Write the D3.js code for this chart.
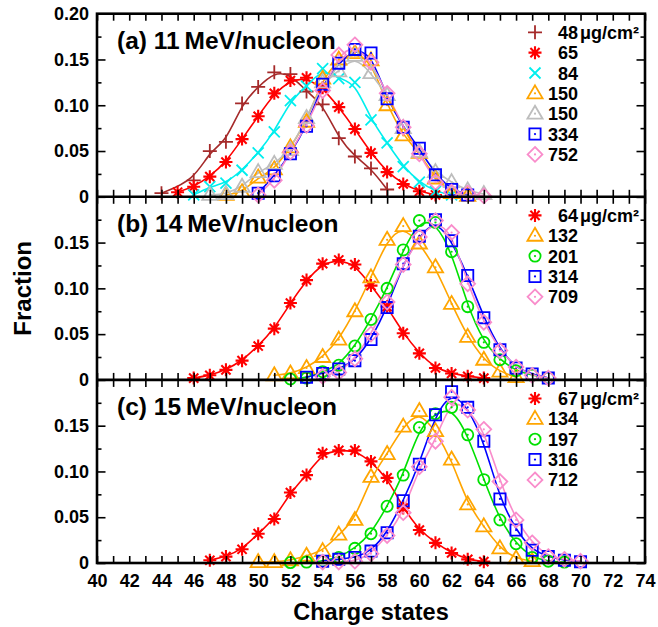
<!DOCTYPE html>
<html>
<head>
<meta charset="utf-8">
<script src="https://cdn.jsdelivr.net/npm/d3@7"></script>
<style>
  body { margin: 0; background: #fff; }
  svg { display: block; }
  text { font-family: "Liberation Sans", Arial, Helvetica, sans-serif; font-weight: bold; fill: #000; }
</style>
</head>
<body>
<svg id="chart" width="658" height="627"></svg>
<script>
// ---------------- data ----------------
const chargeTicks = d3.range(40, 75, 1);          // every integer charge state gets a tick
const fractionMajor = [0, 0.05, 0.10, 0.15, 0.20];
const fractionMinor = [0.025, 0.075, 0.125, 0.175];
const panelTitles = ["(a) 11\u2009MeV/nucleon", "(b) 14\u2009MeV/nucleon", "(c) 15\u2009MeV/nucleon"];

// (a) 11 MeV/nucleon — foil thickness in µg/cm²: [charge state, fraction]
const a48  = [[44,0.004],[46,0.018],[47,0.050],[48,0.060],[49,0.102],[50,0.120],[51,0.136],[52,0.134],[53,0.115],[54,0.101],[55,0.064],[56,0.044],[57,0.031],[58,0.008]];
const a65  = [[45,0.005],[46,0.011],[47,0.022],[48,0.038],[49,0.063],[50,0.088],[51,0.113],[52,0.127],[53,0.130],[54,0.119],[55,0.098],[56,0.074],[57,0.048],[58,0.027],[59,0.014],[60,0.006],[61,0.002]];
const a84  = [[46,0.002],[47,0.011],[48,0.015],[49,0.029],[50,0.048],[51,0.071],[52,0.105],[53,0.121],[54,0.140],[55,0.129],[56,0.125],[57,0.084],[58,0.059],[59,0.033],[60,0.016],[61,0.006],[62,0.002]];
const a150 = [[48,0.002],[49,0.005],[50,0.021],[51,0.030],[52,0.054],[53,0.082],[54,0.129],[55,0.150],[56,0.157],[57,0.149],[58,0.100],[59,0.067],[60,0.048],[61,0.020],[62,0.004],[63,0.001]];
const a150b = [[47,0.002],[48,0.003],[49,0.011],[50,0.027],[51,0.036],[52,0.051],[53,0.086],[54,0.125],[55,0.137],[56,0.154],[57,0.135],[58,0.111],[59,0.075],[60,0.049],[61,0.027],[62,0.016],[63,0.007],[64,0.003]];
const a334 = [[50,0.004],[51,0.023],[52,0.047],[53,0.077],[54,0.123],[55,0.146],[56,0.161],[57,0.157],[58,0.107],[59,0.076],[60,0.053],[61,0.024],[62,0.008],[63,0.002]];
const a752 = [[50,0.002],[51,0.018],[52,0.049],[53,0.078],[54,0.116],[55,0.155],[56,0.166],[57,0.147],[58,0.113],[59,0.076],[60,0.047],[61,0.016],[62,0.005],[63,0.004],[64,0.001]];

// (b) 14 MeV/nucleon
const b64  = [[46,0.002],[47,0.005],[48,0.011],[49,0.021],[50,0.037],[51,0.056],[52,0.084],[53,0.109],[54,0.127],[55,0.131],[56,0.126],[57,0.103],[58,0.080],[59,0.051],[60,0.029],[61,0.013],[62,0.007],[63,0.004],[64,0.002]];
const b132 = [[51,0.005],[52,0.007],[53,0.013],[54,0.025],[55,0.044],[56,0.075],[57,0.112],[58,0.153],[59,0.168],[60,0.149],[61,0.123],[62,0.083],[63,0.047],[64,0.022],[65,0.009],[66,0.003]];
const b201 = [[52,0.001],[53,0.002],[54,0.009],[55,0.016],[56,0.037],[57,0.066],[58,0.100],[59,0.142],[60,0.174],[61,0.172],[62,0.140],[63,0.080],[64,0.041],[65,0.022],[66,0.010],[67,0.005],[68,0.002]];
const b314 = [[53,0.003],[54,0.007],[55,0.012],[56,0.021],[57,0.044],[58,0.079],[59,0.127],[60,0.157],[61,0.175],[62,0.152],[63,0.114],[64,0.068],[65,0.033],[66,0.013],[67,0.0065],[68,0.002]];
const b709 = [[54,0.004],[55,0.008],[56,0.023],[57,0.050],[58,0.085],[59,0.126],[60,0.156],[61,0.174],[62,0.161],[63,0.105],[64,0.063],[65,0.032],[66,0.014],[67,0.005],[68,0.002]];

// (c) 15 MeV/nucleon
const c67  = [[47,0.003],[48,0.007],[49,0.015],[50,0.032],[51,0.048],[52,0.077],[53,0.096],[54,0.120],[55,0.123],[56,0.123],[57,0.111],[58,0.093],[59,0.060],[60,0.036],[61,0.022],[62,0.011],[63,0.004],[64,0.0015]];
const c134 = [[50,0.001],[51,0.001],[52,0.003],[53,0.008],[54,0.013],[55,0.031],[56,0.047],[57,0.094],[58,0.119],[59,0.149],[60,0.166],[61,0.144],[62,0.113],[63,0.064],[64,0.040],[65,0.016],[66,0.005],[67,0.002]];
const c197 = [[52,0.0005],[53,0.001],[54,0.002],[55,0.006],[56,0.016],[57,0.032],[58,0.062],[59,0.096],[60,0.148],[61,0.163],[62,0.170],[63,0.140],[64,0.091],[65,0.047],[66,0.021],[67,0.006],[68,0.002],[69,0.001]];
const c316 = [[54,0.002],[55,0.004],[56,0.006],[57,0.013],[58,0.033],[59,0.068],[60,0.108],[61,0.162],[62,0.187],[63,0.170],[64,0.133],[65,0.070],[66,0.036],[67,0.014],[68,0.007],[69,0.003],[70,0.0015]];
const c712 = [[54,0.001],[55,0.001],[56,0.002],[57,0.010],[58,0.030],[59,0.055],[60,0.105],[61,0.133],[62,0.181],[63,0.167],[64,0.146],[65,0.089],[66,0.047],[67,0.022],[68,0.007],[69,0.004],[70,0.002]];

// ---------------- styles ----------------
const COLORS = {
  brown: "#a52a2a", red: "#ff0000", cyan: "#00eeee", orange: "#ffa500",
  gray: "#bdbdbd", blue: "#0000ff", pink: "#f98ccb", green: "#00e000"
};

const panels = [
  { title: panelTitles[0], series: [
    { label: "48", unit: true, color: COLORS.brown,  symbol: "plus",     data: a48 },
    { label: "65",             color: COLORS.red,    symbol: "asterisk", data: a65 },
    { label: "84",             color: COLORS.cyan,   symbol: "times",    data: a84 },
    { label: "150",            color: COLORS.orange, symbol: "triangle", data: a150 },
    { label: "150",            color: COLORS.gray,   symbol: "triangle", data: a150b },
    { label: "334",            color: COLORS.blue,   symbol: "square",   data: a334 },
    { label: "752",            color: COLORS.pink,   symbol: "diamond",  data: a752 } ] },
  { title: panelTitles[1], series: [
    { label: "64", unit: true, color: COLORS.red,    symbol: "asterisk", data: b64 },
    { label: "132",            color: COLORS.orange, symbol: "triangle", data: b132 },
    { label: "201",            color: COLORS.green,  symbol: "circle",   data: b201 },
    { label: "314",            color: COLORS.blue,   symbol: "square",   data: b314 },
    { label: "709",            color: COLORS.pink,   symbol: "diamond",  data: b709 } ] },
  { title: panelTitles[2], series: [
    { label: "67", unit: true, color: COLORS.red,    symbol: "asterisk", data: c67 },
    { label: "134",            color: COLORS.orange, symbol: "triangle", data: c134 },
    { label: "197",            color: COLORS.green,  symbol: "circle",   data: c197 },
    { label: "316",            color: COLORS.blue,   symbol: "square",   data: c316 },
    { label: "712",            color: COLORS.pink,   symbol: "diamond",  data: c712 } ] }
];

// ---------------- layout ----------------
const plotLeft = 97, plotRight = 645, plotTop = 13.7, panelH = 183.1;

const svg = d3.select("#chart");

const x = d3.scaleLinear().domain([40, 74]).range([plotLeft, plotRight]);

// marker outlines, centred on (0,0)
function markerPath(type) {
  switch (type) {
    case "plus":     return "M-7,0H7M0,-7V7";
    case "asterisk": { const d = 4.6; return `M-6.5,0H6.5M0,-6.5V6.5M${-d},${-d}L${d},${d}M${-d},${d}L${d},${-d}`; }
    case "times":    return "M-5.5,-5.5L5.5,5.5M-5.5,5.5L5.5,-5.5";
    case "triangle": return "M0,-8L7.6,5L-7.6,5Z";
    case "square":   return "M-5.6,-5.6H5.6V5.6H-5.6Z";
    case "diamond":  return "M0,-7.4L7.4,0L0,7.4L-7.4,0Z";
    case "circle":   return "M5.6,0A5.6,5.6 0 1 1 -5.6,0A5.6,5.6 0 1 1 5.6,0Z";
  }
}
const dotted = new Set(["triangle", "square", "diamond", "circle"]);

function drawMarker(g, type, color, px, py) {
  const m = g.append("g").attr("transform", `translate(${px},${py})`);
  m.append("path").attr("d", markerPath(type))
    .attr("fill", "none").attr("stroke", color)
    .attr("stroke-width", type === "asterisk" ? 2.1 : 1.8);
  if (dotted.has(type)) m.append("circle").attr("r", 1.1).attr("fill", color);
}

panels.forEach((panel, i) => {
  const y0 = plotTop + panelH * (i + 1);
  const y1 = plotTop + panelH * i;
  const y = d3.scaleLinear().domain([0, 0.2]).range([y0, y1]);
  const g = svg.append("g");

  // fitted curves
  const line = d3.line().x(d => x(d[0])).y(d => y(d[1])).curve(d3.curveBasis);
  panel.series.forEach(s => {
    g.append("path").datum(s.data).attr("d", line)
      .attr("fill", "none").attr("stroke", s.color).attr("stroke-width", 1.6);
  });
  // measured points
  panel.series.forEach(s => {
    s.data.forEach(d => drawMarker(g, s.symbol, s.color, x(d[0]), y(d[1])));
  });

  // axes with inward ticks
  const isLast = i === panels.length - 1;
  const xb = d3.axisBottom(x).tickValues(chargeTicks).tickSize(-7).tickPadding(11)
    .tickFormat(d => (isLast && d % 2 === 0) ? d : "");
  const xt = d3.axisTop(x).tickValues(chargeTicks).tickSize(-7).tickFormat("");
  const yMajorTicks = i === 0 ? fractionMajor : fractionMajor.filter(v => v < 0.2);
  const yl = d3.axisLeft(y).tickValues(yMajorTicks).tickSize(-8.5).tickPadding(8)
    .tickFormat(v => v === 0 ? "0" : d3.format(".2f")(v));
  const ylm = d3.axisLeft(y).tickValues(fractionMinor).tickSize(-4.5).tickFormat("");
  const yr = d3.axisRight(y).tickValues(fractionMajor).tickSize(-8.5).tickFormat("");
  const yrm = d3.axisRight(y).tickValues(fractionMinor).tickSize(-4.5).tickFormat("");

  const put = (axis, tx, ty) => {
    const a = g.append("g").attr("transform", `translate(${tx},${ty})`).call(axis);
    a.select(".domain").remove();
    a.selectAll(".tick line").attr("stroke", "#000").attr("stroke-width", 1.6);
    a.selectAll(".tick text").style("font-size", "18px")
      .style("font-family", '"Liberation Sans", Arial, sans-serif').style("font-weight", "bold").attr("fill", "#000");
    return a;
  };
  put(xb, 0, y0);
  put(xt, 0, y1);
  put(yl, plotLeft, 0);
  put(ylm, plotLeft, 0);
  put(yr, plotRight, 0);
  put(yrm, plotRight, 0);

  // panel title
  g.append("text").attr("x", 117).attr("y", y1 + 35.5)
    .style("font-size", "24.5px").text(panel.title);

  // legend
  const lg = g.append("g");
  panel.series.forEach((s, k) => {
    const cy = y1 + 18.6 + k * 20.35;
    drawMarker(lg, s.symbol, s.color, 535, cy);
    lg.append("text").attr("x", 578).attr("y", cy + 6.5)
      .attr("text-anchor", "end").style("font-size", "18px").text(s.label);
    if (s.unit) {
      lg.append("text").attr("x", 580).attr("y", cy + 6.5)
        .style("font-size", "18px").text("\u03bcg/cm\u00b2");
    }
  });
});

// frame and panel separators
svg.append("rect").attr("x", plotLeft).attr("y", plotTop)
  .attr("width", plotRight - plotLeft).attr("height", panelH * 3)
  .attr("fill", "none").attr("stroke", "#000").attr("stroke-width", 2.6);
[1, 2].forEach(k => {
  svg.append("line").attr("x1", plotLeft).attr("x2", plotRight)
    .attr("y1", plotTop + panelH * k).attr("y2", plotTop + panelH * k)
    .attr("stroke", "#000").attr("stroke-width", 2.6);
});

// axis titles
svg.append("text").attr("x", (plotLeft + plotRight) / 2).attr("y", 620)
  .attr("text-anchor", "middle").style("font-size", "23.5px").text("Charge states");
svg.append("text").attr("transform", `translate(31,${plotTop + panelH * 1.5}) rotate(-90)`)
  .attr("text-anchor", "middle").style("font-size", "24px").text("Fraction");
</script>
</body>
</html>
